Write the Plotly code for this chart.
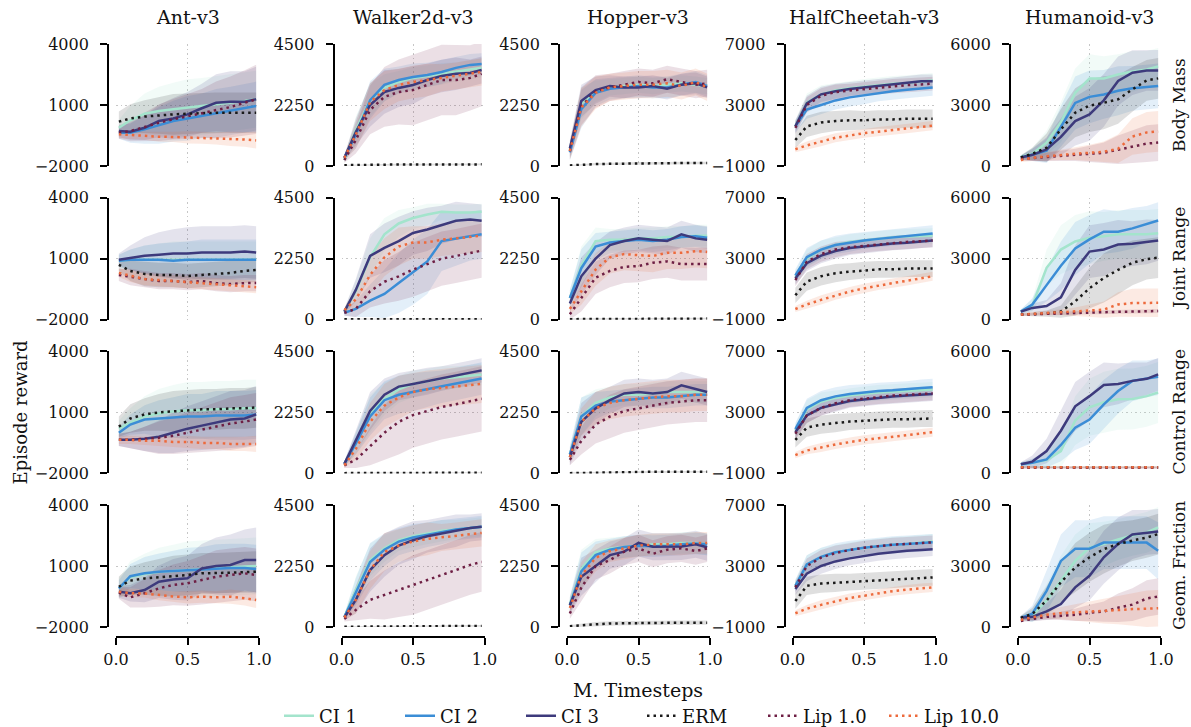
import plotly.graph_objects as go

# Training progress (million timesteps) at which each curve is sampled
STEPS = [0.02, 0.1, 0.2, 0.3, 0.4, 0.5, 0.6, 0.7, 0.8, 0.9, 0.98]

ENVS = ["Ant-v3", "Walker2d-v3", "Hopper-v3", "HalfCheetah-v3", "Humanoid-v3"]
PERTURBATIONS = ["Body Mass", "Joint Range", "Control Range", "Geom. Friction"]
METHODS = ["CI 1", "CI 2", "CI 3", "ERM", "Lip 1.0", "Lip 10.0"]

Y_TICKS = [
    [-2000, 1000, 4000],
    [0, 2250, 4500],
    [0, 2250, 4500],
    [-1000, 3000, 7000],
    [0, 3000, 6000],
]
X_TICKS = [0.0, 0.5, 1.0]
X_TICK_LABELS = ["0.0", "0.5", "1.0"]

# ---------------- Body Mass ----------------
ant_body_mass = {
    "CI 1": [-120, 250, 570, 700, 790, 870, 930, 1030, 1110, 1200, 1280],
    "CI 2": [-360, -360, -200, 0, 210, 340, 460, 590, 700, 840, 950],
    "CI 3": [-280, -310, -120, 210, 340, 540, 840, 1110, 1160, 1160, 1280],
    "ERM": [180, 340, 430, 490, 540, 570, 610, 620, 620, 620, 620],
    "Lip 1.0": [-360, -280, -80, 130, 300, 430, 590, 750, 900, 1110, 1280],
    "Lip 10.0": [-440, -480, -510, -560, -570, -590, -610, -640, -670, -700, -740],
}
ant_body_mass_sd = {
    "CI 1": [400, 700, 1000, 1200, 1300, 1400, 1400, 1400, 1400, 1400, 1400],
    "CI 2": [300, 500, 700, 900, 1000, 1100, 1100, 1200, 1200, 1200, 1200],
    "CI 3": [300, 400, 600, 800, 1000, 1100, 1200, 1400, 1500, 1500, 1600],
    "ERM": [500, 700, 800, 900, 1000, 1000, 1000, 1000, 1000, 1000, 1000],
    "Lip 1.0": [300, 500, 700, 900, 1000, 1100, 1200, 1400, 1500, 1600, 1700],
    "Lip 10.0": [200, 200, 200, 250, 250, 300, 300, 300, 350, 350, 400],
}
walker_body_mass = {
    "CI 1": [220, 1330, 2430, 2880, 3100, 3250, 3320, 3400, 3470, 3540, 3620],
    "CI 2": [300, 1150, 2430, 2990, 3170, 3280, 3360, 3470, 3620, 3730, 3760],
    "CI 3": [300, 1250, 2250, 2730, 2880, 2990, 3170, 3320, 3400, 3430, 3540],
    "ERM": [30, 40, 50, 50, 55, 55, 60, 60, 60, 60, 60],
    "Lip 1.0": [220, 960, 2070, 2550, 2730, 2800, 2990, 3170, 3170, 3250, 3400],
    "Lip 10.0": [300, 1150, 2360, 2800, 2990, 3100, 3170, 3250, 3320, 3400, 3470],
}
walker_body_mass_sd = {
    "CI 1": [100, 500, 600, 500, 400, 400, 400, 400, 350, 350, 350],
    "CI 2": [100, 500, 700, 600, 500, 500, 450, 450, 400, 400, 400],
    "CI 3": [100, 500, 800, 800, 700, 700, 600, 600, 600, 500, 500],
    "ERM": [20, 20, 30, 30, 30, 30, 30, 30, 30, 30, 30],
    "Lip 1.0": [100, 500, 900, 1100, 1200, 1300, 1300, 1300, 1300, 1200, 1200],
    "Lip 10.0": [100, 500, 700, 700, 600, 600, 600, 500, 500, 500, 500],
}
hopper_body_mass = {
    "CI 1": [600, 2300, 2750, 2900, 2950, 3000, 2950, 3000, 3050, 3000, 2950],
    "CI 2": [500, 2100, 2700, 2850, 2900, 2950, 2900, 2900, 3000, 3100, 2950],
    "CI 3": [650, 2400, 2800, 2950, 2900, 2900, 2950, 2850, 3000, 3050, 2900],
    "ERM": [20, 50, 70, 80, 90, 100, 100, 110, 110, 110, 110],
    "Lip 1.0": [550, 2200, 2750, 2900, 3000, 3100, 3050, 3200, 3100, 3000, 3050],
    "Lip 10.0": [550, 2150, 2700, 2900, 2950, 3000, 3000, 3050, 2950, 3100, 2900],
}
hopper_body_mass_sd = {
    "CI 1": [300, 600, 400, 300, 300, 300, 300, 300, 300, 300, 300],
    "CI 2": [300, 700, 500, 400, 400, 400, 400, 400, 400, 400, 400],
    "CI 3": [300, 600, 500, 400, 400, 400, 400, 400, 400, 400, 400],
    "ERM": [20, 30, 40, 40, 50, 50, 50, 50, 50, 50, 50],
    "Lip 1.0": [300, 700, 600, 500, 500, 500, 500, 500, 500, 500, 500],
    "Lip 10.0": [300, 700, 600, 500, 500, 500, 500, 500, 500, 500, 500],
}
cheetah_body_mass = {
    "CI 1": [1600, 3150, 3700, 3950, 4100, 4200, 4300, 4400, 4450, 4550, 4600],
    "CI 2": [1600, 2700, 3000, 3300, 3500, 3650, 3800, 3900, 4000, 4100, 4150],
    "CI 3": [1600, 3100, 3700, 3900, 4050, 4150, 4250, 4350, 4450, 4550, 4550],
    "ERM": [700, 1600, 1850, 1950, 2000, 2000, 2050, 2050, 2100, 2100, 2100],
    "Lip 1.0": [1500, 3000, 3600, 3850, 3950, 4050, 4150, 4250, 4300, 4350, 4400],
    "Lip 10.0": [100, 350, 600, 850, 1000, 1150, 1250, 1350, 1450, 1550, 1650],
}
cheetah_body_mass_sd = {
    "CI 1": [400, 600, 600, 500, 500, 500, 500, 500, 500, 500, 500],
    "CI 2": [400, 600, 600, 600, 600, 600, 550, 550, 550, 550, 550],
    "CI 3": [400, 500, 500, 500, 450, 450, 450, 450, 450, 450, 450],
    "ERM": [500, 700, 700, 650, 650, 600, 600, 600, 600, 600, 600],
    "Lip 1.0": [400, 500, 500, 500, 450, 450, 450, 450, 450, 450, 450],
    "Lip 10.0": [200, 250, 300, 300, 300, 300, 300, 300, 300, 300, 300],
}
humanoid_body_mass = {
    "CI 1": [450, 600, 1150, 2150, 3600, 4300, 4300, 4500, 4650, 4750, 4900],
    "CI 2": [420, 550, 750, 1950, 3100, 3400, 3520, 3700, 3820, 3890, 3940],
    "CI 3": [420, 550, 820, 1430, 2210, 2540, 3230, 4180, 4590, 4700, 4700],
    "ERM": [420, 600, 900, 1800, 2620, 2970, 3110, 3280, 3770, 4210, 4310],
    "Lip 1.0": [350, 400, 450, 500, 550, 600, 650, 800, 950, 1100, 1150],
    "Lip 10.0": [300, 400, 480, 550, 600, 650, 700, 850, 1450, 1650, 1700],
}
humanoid_body_mass_sd = {
    "CI 1": [100, 300, 600, 1000, 1200, 1200, 1100, 1000, 1000, 900, 900],
    "CI 2": [100, 300, 600, 1000, 1300, 1300, 1200, 1200, 1100, 1100, 1100],
    "CI 3": [100, 300, 600, 900, 1200, 1300, 1300, 1200, 1100, 1000, 1000],
    "ERM": [100, 300, 700, 1000, 1200, 1300, 1300, 1200, 1100, 1000, 1000],
    "Lip 1.0": [100, 150, 200, 250, 300, 400, 500, 700, 800, 900, 900],
    "Lip 10.0": [100, 150, 200, 250, 300, 400, 500, 700, 900, 1000, 1000],
}

# ---------------- Joint Range ----------------
ant_joint_range = {
    "CI 1": [900, 950, 950, 950, 950, 950, 950, 950, 950, 950, 950],
    "CI 2": [900, 950, 950, 950, 900, 950, 950, 950, 950, 950, 950],
    "CI 3": [950, 1050, 1150, 1200, 1250, 1250, 1300, 1300, 1300, 1350, 1300],
    "ERM": [700, 400, 250, 200, 200, 150, 200, 250, 300, 400, 450],
    "Lip 1.0": [200, 100, 0, -100, -100, -150, -100, -200, -250, -200, -200],
    "Lip 10.0": [300, 150, 0, -50, -100, -150, -200, -250, -300, -350, -400],
}
ant_joint_range_sd = {
    "CI 1": [300, 500, 700, 800, 900, 900, 900, 900, 900, 900, 900],
    "CI 2": [300, 500, 700, 800, 900, 900, 1000, 1000, 1000, 1000, 1000],
    "CI 3": [300, 600, 900, 1100, 1200, 1300, 1300, 1300, 1300, 1300, 1300],
    "ERM": [300, 500, 600, 600, 600, 600, 600, 600, 600, 600, 600],
    "Lip 1.0": [300, 400, 400, 400, 400, 400, 400, 400, 400, 400, 400],
    "Lip 10.0": [200, 300, 300, 300, 300, 300, 300, 300, 300, 300, 300],
}
walker_joint_range = {
    "CI 1": [300, 1050, 2300, 3150, 3550, 3750, 3880, 3980, 3950, 3950, 3980],
    "CI 2": [250, 400, 700, 950, 1350, 1750, 2150, 2900, 2980, 3080, 3150],
    "CI 3": [300, 1100, 2350, 2650, 2900, 3200, 3330, 3500, 3650, 3700, 3650],
    "ERM": [20, 20, 20, 20, 20, 20, 20, 20, 20, 20, 20],
    "Lip 1.0": [250, 400, 1050, 1400, 1600, 1850, 2050, 2250, 2350, 2450, 2550],
    "Lip 10.0": [350, 750, 1650, 2300, 2700, 2850, 2850, 2950, 3000, 3050, 3100],
}
walker_joint_range_sd = {
    "CI 1": [100, 400, 700, 600, 500, 400, 400, 300, 300, 300, 300],
    "CI 2": [100, 300, 600, 900, 1100, 1200, 1200, 1100, 1000, 900, 900],
    "CI 3": [100, 400, 800, 900, 900, 800, 800, 700, 700, 600, 600],
    "ERM": [20, 20, 20, 20, 20, 20, 20, 20, 20, 20, 20],
    "Lip 1.0": [100, 300, 600, 800, 900, 1000, 1000, 1000, 1000, 1000, 1000],
    "Lip 10.0": [100, 400, 700, 700, 700, 600, 600, 600, 600, 600, 600],
}
hopper_joint_range = {
    "CI 1": [800, 2000, 2900, 2950, 2950, 3000, 3000, 3050, 3050, 3100, 3100],
    "CI 2": [800, 1900, 2700, 2850, 2900, 2950, 2900, 2950, 3050, 3080, 3020],
    "CI 3": [600, 1600, 2250, 2750, 2900, 3000, 2950, 2900, 3150, 3000, 2950],
    "ERM": [20, 20, 25, 25, 30, 30, 30, 35, 35, 40, 40],
    "Lip 1.0": [200, 800, 1550, 1800, 1950, 1980, 2100, 2150, 2050, 2050, 2050],
    "Lip 10.0": [400, 1050, 1850, 2300, 2420, 2380, 2350, 2470, 2470, 2530, 2500],
}
hopper_joint_range_sd = {
    "CI 1": [300, 700, 500, 400, 400, 400, 400, 400, 400, 400, 400],
    "CI 2": [300, 700, 500, 400, 400, 400, 400, 400, 400, 400, 400],
    "CI 3": [300, 700, 600, 500, 500, 500, 500, 500, 500, 500, 500],
    "ERM": [30, 30, 30, 30, 30, 30, 30, 30, 30, 30, 30],
    "Lip 1.0": [200, 500, 600, 600, 600, 600, 600, 600, 600, 600, 600],
    "Lip 10.0": [200, 500, 600, 600, 600, 600, 600, 600, 600, 600, 600],
}
cheetah_joint_range = {
    "CI 1": [1800, 3000, 3600, 3900, 4100, 4200, 4300, 4400, 4450, 4500, 4500],
    "CI 2": [1900, 3100, 3600, 3900, 4050, 4200, 4300, 4400, 4500, 4600, 4650],
    "CI 3": [1700, 2700, 3200, 3500, 3700, 3800, 3900, 4000, 4050, 4150, 4200],
    "ERM": [600, 1500, 1850, 2050, 2150, 2250, 2300, 2300, 2350, 2350, 2350],
    "Lip 1.0": [1600, 2800, 3300, 3600, 3750, 3850, 3950, 4050, 4100, 4150, 4200],
    "Lip 10.0": [-300, 0, 300, 600, 850, 1050, 1250, 1400, 1550, 1700, 1850],
}
cheetah_joint_range_sd = {
    "CI 1": [400, 600, 600, 500, 500, 500, 500, 500, 500, 500, 500],
    "CI 2": [400, 600, 600, 600, 600, 550, 550, 550, 550, 550, 550],
    "CI 3": [400, 500, 500, 500, 450, 450, 450, 450, 450, 450, 450],
    "ERM": [500, 600, 600, 600, 550, 550, 550, 550, 550, 550, 550],
    "Lip 1.0": [400, 500, 500, 500, 450, 450, 450, 450, 450, 450, 450],
    "Lip 10.0": [200, 250, 300, 300, 300, 300, 300, 300, 300, 300, 300],
}
humanoid_joint_range = {
    "CI 1": [400, 700, 2550, 3450, 3850, 4030, 4100, 4200, 4200, 4200, 4250],
    "CI 2": [400, 750, 1700, 2650, 3500, 3950, 4330, 4330, 4490, 4690, 4880],
    "CI 3": [400, 580, 670, 1100, 2450, 3350, 3450, 3700, 3740, 3830, 3900],
    "ERM": [250, 260, 300, 400, 900, 1550, 2050, 2450, 2800, 2980, 3050],
    "Lip 1.0": [250, 270, 290, 310, 330, 350, 370, 390, 400, 420, 430],
    "Lip 10.0": [250, 300, 330, 370, 400, 450, 500, 750, 820, 830, 830],
}
humanoid_joint_range_sd = {
    "CI 1": [100, 300, 900, 1200, 1300, 1300, 1200, 1200, 1200, 1200, 1200],
    "CI 2": [100, 300, 800, 1200, 1300, 1200, 1100, 1000, 1000, 900, 900],
    "CI 3": [100, 200, 300, 700, 1200, 1300, 1300, 1200, 1100, 1100, 1000],
    "ERM": [50, 100, 150, 300, 700, 1000, 1200, 1200, 1100, 1000, 1000],
    "Lip 1.0": [50, 60, 70, 80, 90, 100, 100, 100, 100, 100, 100],
    "Lip 10.0": [50, 80, 100, 150, 200, 300, 400, 600, 700, 700, 700],
}

# ---------------- Control Range ----------------
ant_control_range = {
    "CI 1": [200, 500, 800, 950, 1050, 1100, 1100, 1150, 1150, 1200, 1200],
    "CI 2": [0, 400, 650, 700, 750, 800, 800, 850, 850, 850, 900],
    "CI 3": [-350, -350, -300, -200, 0, 200, 350, 500, 650, 700, 900],
    "ERM": [300, 700, 900, 1000, 1050, 1100, 1150, 1150, 1200, 1200, 1250],
    "Lip 1.0": [-350, -350, -300, -250, -150, 0, 150, 300, 450, 550, 650],
    "Lip 10.0": [-350, -350, -400, -400, -450, -450, -500, -500, -550, -550, -550],
}
ant_control_range_sd = {
    "CI 1": [400, 700, 1000, 1200, 1300, 1400, 1400, 1400, 1400, 1400, 1400],
    "CI 2": [300, 500, 700, 900, 1000, 1100, 1100, 1200, 1200, 1200, 1200],
    "CI 3": [300, 400, 600, 800, 1000, 1100, 1200, 1300, 1400, 1400, 1400],
    "ERM": [500, 700, 800, 900, 1000, 1000, 1000, 1000, 1000, 1000, 1000],
    "Lip 1.0": [300, 400, 600, 800, 900, 1000, 1100, 1200, 1300, 1300, 1300],
    "Lip 10.0": [200, 200, 200, 250, 250, 300, 300, 300, 350, 350, 400],
}
walker_control_range = {
    "CI 1": [350, 1100, 2200, 2750, 3100, 3300, 3400, 3500, 3550, 3600, 3650],
    "CI 2": [350, 1100, 2100, 2700, 2900, 3000, 3100, 3200, 3300, 3400, 3500],
    "CI 3": [350, 1200, 2300, 2900, 3200, 3300, 3400, 3500, 3600, 3700, 3800],
    "ERM": [10, 10, 15, 20, 20, 20, 25, 25, 25, 25, 25],
    "Lip 1.0": [300, 500, 1000, 1500, 1900, 2150, 2300, 2450, 2550, 2650, 2750],
    "Lip 10.0": [300, 900, 1900, 2500, 2800, 3000, 3100, 3150, 3200, 3250, 3300],
}
walker_control_range_sd = {
    "CI 1": [100, 400, 700, 600, 500, 500, 450, 450, 400, 400, 400],
    "CI 2": [100, 400, 700, 700, 700, 700, 650, 600, 600, 600, 600],
    "CI 3": [100, 400, 700, 600, 500, 500, 500, 450, 450, 450, 450],
    "ERM": [20, 20, 20, 20, 20, 20, 20, 20, 20, 20, 20],
    "Lip 1.0": [100, 300, 700, 1000, 1200, 1200, 1200, 1200, 1200, 1200, 1200],
    "Lip 10.0": [100, 400, 700, 800, 800, 700, 700, 700, 700, 700, 700],
}
hopper_control_range = {
    "CI 1": [700, 2100, 2600, 2800, 2900, 2900, 2950, 3000, 3000, 3000, 3000],
    "CI 2": [700, 2100, 2500, 2650, 2700, 2750, 2800, 2800, 2850, 2900, 2900],
    "CI 3": [600, 1900, 2400, 2700, 2950, 3000, 2950, 3000, 3250, 3100, 3000],
    "ERM": [10, 20, 30, 40, 50, 50, 60, 60, 60, 60, 60],
    "Lip 1.0": [500, 1200, 1800, 2100, 2300, 2400, 2500, 2600, 2650, 2700, 2700],
    "Lip 10.0": [600, 1900, 2400, 2600, 2700, 2750, 2800, 2850, 2850, 2900, 2900],
}
hopper_control_range_sd = {
    "CI 1": [300, 700, 500, 400, 400, 400, 400, 400, 400, 400, 400],
    "CI 2": [300, 700, 500, 400, 400, 400, 400, 400, 400, 400, 400],
    "CI 3": [300, 700, 600, 500, 500, 500, 500, 500, 500, 500, 500],
    "ERM": [30, 30, 30, 30, 30, 30, 30, 30, 30, 30, 30],
    "Lip 1.0": [200, 500, 700, 800, 800, 800, 800, 800, 800, 800, 800],
    "Lip 10.0": [200, 500, 600, 600, 600, 600, 600, 600, 600, 600, 600],
}
cheetah_control_range = {
    "CI 1": [1800, 3200, 3700, 3950, 4100, 4200, 4300, 4350, 4400, 4450, 4500],
    "CI 2": [1900, 3300, 3800, 4050, 4200, 4300, 4400, 4450, 4500, 4600, 4650],
    "CI 3": [1700, 2800, 3300, 3550, 3750, 3850, 3950, 4050, 4100, 4150, 4200],
    "ERM": [1200, 2000, 2200, 2300, 2400, 2450, 2500, 2550, 2550, 2600, 2600],
    "Lip 1.0": [1600, 2800, 3300, 3600, 3800, 3900, 4000, 4100, 4150, 4200, 4250],
    "Lip 10.0": [200, 500, 700, 900, 1050, 1200, 1300, 1400, 1500, 1600, 1700],
}
cheetah_control_range_sd = {
    "CI 1": [400, 600, 600, 500, 500, 500, 500, 500, 500, 500, 500],
    "CI 2": [400, 600, 600, 600, 600, 550, 550, 550, 550, 550, 550],
    "CI 3": [400, 500, 500, 500, 450, 450, 450, 450, 450, 450, 450],
    "ERM": [500, 600, 600, 600, 550, 550, 550, 550, 550, 550, 550],
    "Lip 1.0": [400, 500, 500, 500, 450, 450, 450, 450, 450, 450, 450],
    "Lip 10.0": [200, 250, 300, 300, 300, 300, 300, 300, 300, 300, 300],
}
humanoid_control_range = {
    "CI 1": [450, 520, 650, 1100, 2600, 3250, 3500, 3650, 3660, 3800, 3980],
    "CI 2": [450, 520, 690, 1400, 2250, 2650, 3400, 4050, 4550, 4650, 4750],
    "CI 3": [450, 580, 1100, 2100, 3300, 3800, 4350, 4400, 4550, 4650, 4870],
    "ERM": [300, 300, 300, 300, 300, 300, 300, 300, 300, 300, 300],
    "Lip 1.0": [280, 280, 280, 280, 280, 280, 280, 280, 280, 280, 280],
    "Lip 10.0": [300, 300, 300, 300, 300, 300, 300, 300, 300, 300, 300],
}
humanoid_control_range_sd = {
    "CI 1": [100, 200, 400, 800, 1200, 1400, 1500, 1500, 1500, 1500, 1500],
    "CI 2": [100, 200, 400, 800, 1100, 1200, 1200, 1100, 1000, 900, 900],
    "CI 3": [100, 300, 600, 1000, 1200, 1200, 1100, 1000, 900, 800, 800],
    "ERM": [50, 50, 50, 50, 50, 50, 50, 50, 50, 50, 50],
    "Lip 1.0": [50, 50, 50, 50, 50, 50, 50, 50, 50, 50, 50],
    "Lip 10.0": [50, 50, 50, 50, 50, 50, 50, 50, 50, 50, 50],
}

# ---------------- Geom. Friction ----------------
ant_geom_friction = {
    "CI 1": [-100, 450, 600, 700, 750, 800, 850, 900, 950, 970, 1000],
    "CI 2": [-100, 500, 640, 720, 750, 800, 840, 870, 900, 900, 850],
    "CI 3": [-260, -340, -180, 230, 340, 400, 880, 1000, 1050, 1290, 1290],
    "ERM": [-20, 280, 390, 440, 510, 560, 640, 640, 670, 700, 720],
    "Lip 1.0": [-310, -540, -340, -100, 70, 150, 310, 470, 560, 640, 560],
    "Lip 10.0": [-260, -340, -350, -430, -500, -540, -510, -540, -510, -590, -670],
}
ant_geom_friction_sd = {
    "CI 1": [500, 800, 1000, 1200, 1300, 1400, 1400, 1400, 1400, 1400, 1400],
    "CI 2": [400, 600, 800, 900, 1000, 1100, 1100, 1200, 1200, 1200, 1200],
    "CI 3": [300, 400, 600, 800, 1000, 1100, 1200, 1400, 1500, 1500, 1600],
    "ERM": [500, 700, 800, 900, 1000, 1000, 1000, 1000, 1000, 1000, 1000],
    "Lip 1.0": [300, 500, 700, 900, 1000, 1100, 1200, 1300, 1300, 1300, 1300],
    "Lip 10.0": [200, 200, 200, 250, 250, 300, 300, 300, 350, 350, 400],
}
walker_geom_friction = {
    "CI 1": [370, 1360, 2470, 2900, 3200, 3350, 3450, 3550, 3600, 3650, 3700],
    "CI 2": [370, 1300, 2400, 2850, 3150, 3300, 3400, 3500, 3600, 3650, 3700],
    "CI 3": [350, 1000, 2100, 2650, 3000, 3200, 3350, 3450, 3550, 3650, 3700],
    "ERM": [10, 15, 20, 25, 30, 35, 35, 40, 40, 40, 40],
    "Lip 1.0": [300, 630, 1000, 1180, 1370, 1550, 1730, 1920, 2100, 2290, 2400],
    "Lip 10.0": [350, 1000, 2100, 2770, 3000, 3150, 3250, 3300, 3350, 3420, 3470],
}
walker_geom_friction_sd = {
    "CI 1": [100, 500, 600, 500, 400, 400, 400, 400, 350, 350, 350],
    "CI 2": [100, 500, 700, 600, 500, 500, 450, 450, 400, 400, 400],
    "CI 3": [100, 500, 800, 800, 700, 700, 600, 600, 600, 500, 500],
    "ERM": [20, 20, 30, 30, 30, 30, 30, 30, 30, 30, 30],
    "Lip 1.0": [100, 400, 700, 900, 1000, 1100, 1100, 1100, 1100, 1100, 1100],
    "Lip 10.0": [100, 500, 700, 700, 600, 600, 600, 500, 500, 500, 500],
}
hopper_geom_friction = {
    "CI 1": [850, 2150, 2750, 2900, 2950, 3000, 3050, 3050, 3100, 3100, 3050],
    "CI 2": [800, 2050, 2650, 2850, 2950, 3000, 2980, 3000, 3050, 3080, 3050],
    "CI 3": [800, 1850, 2250, 2650, 2780, 3100, 2960, 2960, 2970, 3050, 2940],
    "ERM": [30, 70, 100, 130, 140, 150, 150, 150, 160, 160, 160],
    "Lip 1.0": [500, 1450, 2250, 2470, 2780, 2900, 2700, 2850, 2900, 2800, 2900],
    "Lip 10.0": [700, 1900, 2550, 2800, 2900, 3000, 3050, 3050, 3050, 3100, 3100],
}
hopper_geom_friction_sd = {
    "CI 1": [300, 700, 500, 400, 400, 400, 400, 400, 400, 400, 400],
    "CI 2": [300, 700, 500, 400, 400, 400, 400, 400, 400, 400, 400],
    "CI 3": [300, 700, 600, 500, 500, 500, 500, 500, 500, 500, 500],
    "ERM": [40, 60, 80, 80, 80, 80, 80, 80, 80, 80, 80],
    "Lip 1.0": [200, 500, 500, 500, 500, 500, 500, 500, 500, 500, 500],
    "Lip 10.0": [200, 500, 500, 400, 400, 400, 400, 400, 400, 400, 400],
}
cheetah_geom_friction = {
    "CI 1": [1700, 3100, 3600, 3900, 4050, 4200, 4300, 4400, 4450, 4550, 4600],
    "CI 2": [1700, 3100, 3600, 3900, 4050, 4200, 4300, 4400, 4450, 4500, 4550],
    "CI 3": [1500, 2500, 3000, 3300, 3500, 3650, 3800, 3900, 4000, 4050, 4100],
    "ERM": [700, 1700, 1850, 1900, 1950, 2000, 2050, 2100, 2150, 2200, 2250],
    "Lip 1.0": [1600, 3000, 3550, 3850, 4050, 4200, 4300, 4400, 4450, 4500, 4550],
    "Lip 10.0": [-100, 200, 450, 700, 900, 1050, 1200, 1350, 1450, 1550, 1600],
}
cheetah_geom_friction_sd = {
    "CI 1": [400, 600, 600, 500, 500, 500, 500, 500, 500, 500, 500],
    "CI 2": [400, 600, 600, 600, 600, 550, 550, 550, 550, 550, 550],
    "CI 3": [400, 500, 500, 500, 450, 450, 450, 450, 450, 450, 450],
    "ERM": [500, 600, 600, 600, 550, 550, 550, 550, 550, 550, 550],
    "Lip 1.0": [400, 500, 500, 500, 450, 450, 450, 450, 450, 450, 450],
    "Lip 10.0": [200, 250, 300, 300, 300, 300, 300, 300, 300, 300, 300],
}
humanoid_geom_friction = {
    "CI 1": [450, 550, 1300, 2300, 3250, 3900, 4080, 4300, 4500, 4650, 4900],
    "CI 2": [450, 650, 1780, 3250, 3850, 3850, 4150, 4150, 4150, 4150, 3750],
    "CI 3": [450, 500, 770, 1130, 1950, 2520, 3430, 4080, 4550, 4650, 4700],
    "ERM": [450, 640, 1300, 2200, 2930, 3430, 3830, 4080, 4250, 4400, 4570],
    "Lip 1.0": [300, 400, 500, 550, 600, 700, 760, 950, 1100, 1400, 1500],
    "Lip 10.0": [350, 480, 600, 680, 720, 750, 770, 830, 880, 900, 920],
}
humanoid_geom_friction_sd = {
    "CI 1": [100, 300, 800, 1200, 1300, 1200, 1100, 1000, 1000, 1000, 1000],
    "CI 2": [100, 400, 1000, 1300, 1400, 1400, 1300, 1300, 1300, 1300, 1400],
    "CI 3": [100, 200, 400, 700, 1000, 1200, 1300, 1300, 1200, 1100, 1100],
    "ERM": [100, 300, 700, 1000, 1200, 1200, 1200, 1100, 1000, 1000, 1000],
    "Lip 1.0": [50, 100, 150, 200, 300, 400, 500, 700, 800, 900, 900],
    "Lip 10.0": [50, 100, 200, 300, 400, 500, 600, 700, 800, 900, 900],
}

MEANS = [
    [ant_body_mass, walker_body_mass, hopper_body_mass, cheetah_body_mass, humanoid_body_mass],
    [ant_joint_range, walker_joint_range, hopper_joint_range, cheetah_joint_range, humanoid_joint_range],
    [ant_control_range, walker_control_range, hopper_control_range, cheetah_control_range, humanoid_control_range],
    [ant_geom_friction, walker_geom_friction, hopper_geom_friction, cheetah_geom_friction, humanoid_geom_friction],
]
SPREADS = [
    [ant_body_mass_sd, walker_body_mass_sd, hopper_body_mass_sd, cheetah_body_mass_sd, humanoid_body_mass_sd],
    [ant_joint_range_sd, walker_joint_range_sd, hopper_joint_range_sd, cheetah_joint_range_sd, humanoid_joint_range_sd],
    [ant_control_range_sd, walker_control_range_sd, hopper_control_range_sd, cheetah_control_range_sd, humanoid_control_range_sd],
    [ant_geom_friction_sd, walker_geom_friction_sd, hopper_geom_friction_sd, cheetah_geom_friction_sd, humanoid_geom_friction_sd],
]

# ---------------- Styling ----------------
COLORS = {
    "CI 1": (163, 228, 204),
    "CI 2": (59, 141, 214),
    "CI 3": (61, 58, 124),
    "ERM": (26, 26, 26),
    "Lip 1.0": (110, 31, 68),
    "Lip 10.0": (237, 106, 60),
}
DASHES = {
    "CI 1": "solid", "CI 2": "solid", "CI 3": "solid",
    "ERM": "2.5px,4px", "Lip 1.0": "2.5px,4px", "Lip 10.0": "2.5px,4px",
}
BAND_ALPHA = 0.14
FONT = "DejaVu Serif"
GRID = dict(showgrid=True, gridcolor="#c6c6c6", griddash="1.5px,3px", gridwidth=1)

W, H = 1191, 727
PLOT_W, PLOT_H = 143, 122
COL_LEFT = [116 + 225.5 * c for c in range(5)]
ROW_TOP = [44, 197.7, 351.4, 505]
SPINE_OFFSET = 8
XAXIS_Y = 637


def rgba(rgb, a):
    return "rgba(%d,%d,%d,%.3f)" % (rgb[0], rgb[1], rgb[2], a)


def fmt_tick(v):
    return ("\u2212%d" % abs(v)) if v < 0 else "%d" % v


fig = go.Figure()
layout = {}

for r in range(4):
    for c in range(5):
        k = r * 5 + c + 1
        xname = "x" if k == 1 else "x%d" % k
        yname = "y" if k == 1 else "y%d" % k
        left = COL_LEFT[c]
        top = ROW_TOP[r]
        yt = Y_TICKS[c]
        bottom_row = r == 3

        xaxis = dict(
            domain=[left / W, (left + PLOT_W) / W],
            range=[0, 1],
            tickvals=X_TICKS,
            ticktext=X_TICK_LABELS,
            zeroline=False,
            showticklabels=bottom_row,
            showline=bottom_row,
            linecolor="black", linewidth=1.8,
            ticks="outside" if bottom_row else "",
            ticklen=7, tickwidth=1.8, tickcolor="black",
            ticklabelstandoff=1,
            tickfont=dict(family=FONT, size=16, color="#111"),
            automargin=False,
            **GRID,
        )
        if bottom_row:
            xaxis.update(anchor="free", position=(H - XAXIS_Y) / H)
        else:
            xaxis.update(anchor=yname)

        yaxis = dict(
            domain=[(H - top - PLOT_H) / H, (H - top) / H],
            range=[yt[0], yt[-1]],
            tickvals=yt,
            ticktext=[fmt_tick(v) for v in yt],
            zeroline=False,
            showline=True, linecolor="black", linewidth=1.8,
            ticks="outside", ticklen=7, tickwidth=1.8, tickcolor="black",
            ticklabelstandoff=8,
            tickfont=dict(family=FONT, size=16, color="#111"),
            anchor="free", position=(left - SPINE_OFFSET) / W,
            automargin=False,
            **GRID,
        )
        layout["xaxis" if k == 1 else "xaxis%d" % k] = xaxis
        layout["yaxis" if k == 1 else "yaxis%d" % k] = yaxis

        means = MEANS[r][c]
        spreads = SPREADS[r][c]
        # shaded spread bands first, then the mean curves on top
        for m in METHODS:
            upper = [a + b for a, b in zip(means[m], spreads[m])]
            lower = [a - b for a, b in zip(means[m], spreads[m])]
            fig.add_trace(go.Scatter(
                x=STEPS + STEPS[::-1], y=upper + lower[::-1],
                fill="toself", fillcolor=rgba(COLORS[m], BAND_ALPHA),
                line=dict(width=0), mode="lines", hoverinfo="skip",
                showlegend=False, xaxis=xname, yaxis=yname,
            ))
        for m in METHODS:
            fig.add_trace(go.Scatter(
                x=STEPS, y=means[m], mode="lines", name=m,
                line=dict(color=rgba(COLORS[m], 1), width=2.5, dash=DASHES[m]),
                legendgroup=m, showlegend=(k == 1),
                xaxis=xname, yaxis=yname,
            ))

annotations = []
for c, env in enumerate(ENVS):
    annotations.append(dict(
        x=(COL_LEFT[c] + PLOT_W / 2) / W, y=(H - 17) / H, xref="paper", yref="paper",
        text=env, showarrow=False, xanchor="center", yanchor="middle",
        font=dict(family=FONT, size=19, color="#111"),
    ))
for r, name in enumerate(PERTURBATIONS):
    annotations.append(dict(
        x=1179 / W, y=(H - ROW_TOP[r] - PLOT_H / 2) / H, xref="paper", yref="paper",
        text=name, showarrow=False, textangle=-90, xanchor="center", yanchor="middle",
        font=dict(family=FONT, size=17, color="#111"),
    ))
annotations.append(dict(
    x=20 / W, y=(H - ROW_TOP[2] - PLOT_H / 2) / H, xref="paper", yref="paper",
    text="Episode reward", showarrow=False, textangle=-90, xanchor="center", yanchor="middle",
    font=dict(family=FONT, size=18, color="#111"),
))
annotations.append(dict(
    x=(COL_LEFT[2] + PLOT_W / 2) / W, y=(H - 690) / H, xref="paper", yref="paper",
    text="M. Timesteps", showarrow=False, xanchor="center", yanchor="middle",
    font=dict(family=FONT, size=19, color="#111"),
))

layout.update(
    width=W, height=H,
    margin=dict(l=0, r=0, t=0, b=0, autoexpand=False),
    paper_bgcolor="white", plot_bgcolor="white",
    annotations=annotations,
    showlegend=True,
    legend=dict(
        orientation="h", x=642 / W, xanchor="center", y=(H - 716) / H, yanchor="middle",
        font=dict(family=FONT, size=18, color="#111"),
        bgcolor="rgba(0,0,0,0)", itemwidth=30,
        entrywidth=76, entrywidthmode="pixels",
    ),
    font=dict(family=FONT),
)
fig.update_layout(**layout)
fig.write_html("out.html")
